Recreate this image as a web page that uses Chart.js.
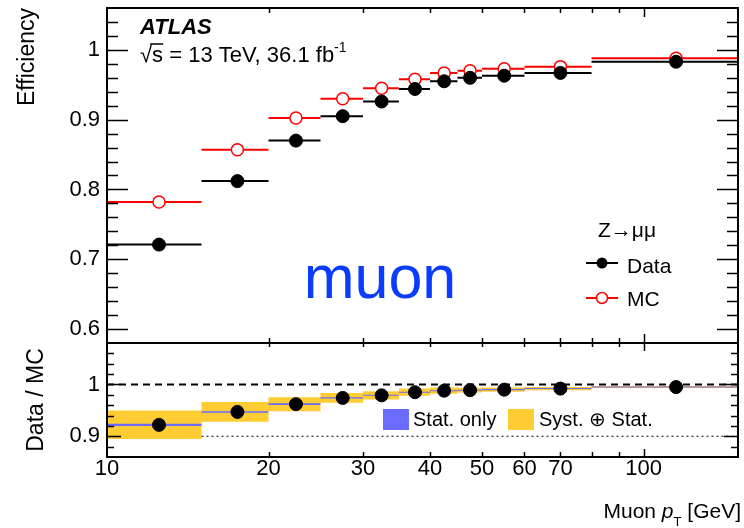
<!DOCTYPE html>
<html>
<head>
<meta charset="utf-8">
<script src="https://cdn.jsdelivr.net/npm/chart.js@4.4.1/dist/chart.umd.min.js"></script>
<style>
    html, body { margin: 0; padding: 0; background: #fff; }
    #wrap { position: relative; width: 744px; height: 528px; }
    #effCanvas { position: absolute; left: 0; top: 0; }
    #ratioCanvas { position: absolute; left: 0; top: 330px; }
</style>
</head>
<body>
<div id="wrap">
    <canvas id="effCanvas" width="744" height="345"></canvas>
    <canvas id="ratioCanvas" width="744" height="198"></canvas>
</div>
<script>
// pT bins [GeV]
const binLow = [10, 15, 20, 25, 30, 35, 40, 45, 50, 60, 80];
const binHigh = [15, 20, 25, 30, 35, 40, 45, 50, 60, 80, 150];
const binCenter = [12.5, 17.5, 22.5, 27.5, 32.5, 37.5, 42.5, 47.5, 55, 70, 115];

// efficiencies
const effData = [0.721, 0.812, 0.870, 0.905, 0.926, 0.944, 0.955, 0.960, 0.963, 0.967, 0.983];
const effMC = [0.782, 0.857, 0.9025, 0.930, 0.945, 0.958, 0.967, 0.970, 0.973, 0.976, 0.988];

// data / MC
const ratio = [0.922, 0.947, 0.962, 0.974, 0.979, 0.985, 0.988, 0.989, 0.990, 0.992, 0.995];
const statErr = [0.002, 0.0015, 0.0015, 0.0012, 0.001, 0.001, 0.001, 0.001, 0.001, 0.001, 0.001];
const systErr = [0.0275, 0.019, 0.0135, 0.0095, 0.008, 0.007, 0.006, 0.0045, 0.004, 0.003, 0.002];

// axes
const ptTicks = [10, 20, 30, 40, 50, 60, 70, 100];
const ptTickLabels = ['10', '20', '30', '40', '50', '60', '70', '100'];
const ptTickMarks = [20, 30, 40, 50, 60, 70, 80, 90, 100];
const effTicks = [0.6, 0.7, 0.8, 0.9, 1];
const effTickLabels = ['0.6', '0.7', '0.8', '0.9', '1'];
const ratioTicks = [0.9, 1];
const ratioTickLabels = ['0.9', '1'];

const FONT = '"Liberation Sans", Arial, Helvetica, sans-serif';
Chart.defaults.font.family = FONT;
Chart.defaults.color = '#000';

function binSegments(values) {
    const pts = [];
    values.forEach((v, i) => {
        pts.push({x: binLow[i], y: v}, {x: binHigh[i], y: v}, {x: binHigh[i], y: null});
    });
    return pts;
}

function stepEdge(values, errs, sign) {
    const pts = [];
    values.forEach((v, i) => {
        const y = v + sign * errs[i];
        pts.push({x: binLow[i], y: y}, {x: binHigh[i], y: y});
    });
    return pts;
}

function centers(values) {
    return values.map((v, i) => ({x: binCenter[i], y: v}));
}

// fixed axis box, no label overflow padding
function fixWidth(w) {
    return s => { s.width = w; s.paddingTop = 0; s.paddingBottom = 0; };
}

// inside tick marks + frame, ROOT style
const frameTicks = {
    id: 'frameTicks',
    afterDatasetsDraw(chart, args, o) {
        const {ctx, chartArea: a, scales} = chart;
        const xs = scales.x, ys = scales.y;
        ctx.save();
        ctx.strokeStyle = '#000';
        ctx.lineWidth = 1.5;
        ctx.beginPath();
        for (let v = o.yFrom; v <= o.yTo + 1e-9; v += 0.02) {
            const py = Math.round(ys.getPixelForValue(v)) + 0.5;
            const major = o.yMajor.some(m => Math.abs(m - v) < 1e-6);
            const len = major ? o.yMajorLen : o.yMinorLen;
            ctx.moveTo(a.left, py); ctx.lineTo(a.left + len, py);
            ctx.moveTo(a.right, py); ctx.lineTo(a.right - len, py);
        }
        ptTickMarks.forEach(v => {
            const px = Math.round(xs.getPixelForValue(v)) + 0.5;
            const lenTop = v === 100 ? o.xMajorLen : o.xMinorTop;
            const lenBot = v === 100 ? o.xMajorLen : o.xMinorBot;
            ctx.moveTo(px, a.top); ctx.lineTo(px, a.top + lenTop);
            ctx.moveTo(px, a.bottom); ctx.lineTo(px, a.bottom - lenBot);
        });
        ctx.stroke();
        ctx.lineWidth = 2;
        ctx.strokeRect(a.left, a.top, a.right - a.left, a.bottom - a.top);
        ctx.restore();
    }
};

const effLabels = {
    id: 'effLabels',
    afterDraw(chart) {
        const ctx = chart.ctx;
        ctx.save();
        ctx.fillStyle = '#000';
        ctx.strokeStyle = '#000';
        ctx.textBaseline = 'alphabetic';
        ctx.font = 'italic bold 22px ' + FONT;
        ctx.fillText('ATLAS', 140, 34);

        ctx.font = '22px ' + FONT;
        const s1 = '\u221As = 13 TeV, 36.1 fb';
        ctx.fillText(s1, 140, 62);
        const w1 = ctx.measureText(s1).width;
        const wr = ctx.measureText('\u221A').width;
        const ws = ctx.measureText('s').width;
        ctx.lineWidth = 1.5;
        ctx.beginPath();
        ctx.moveTo(140 + wr - 2, 44); ctx.lineTo(140 + wr + ws, 44);
        ctx.stroke();
        ctx.font = '14px ' + FONT;
        ctx.fillText('-1', 140 + w1, 52);

        ctx.fillStyle = '#0a3cff';
        ctx.font = '61px ' + FONT;
        ctx.textAlign = 'center';
        ctx.fillText('muon', 380, 298);

        ctx.textAlign = 'left';
        ctx.fillStyle = '#000';
        ctx.font = '21px ' + FONT;
        ctx.fillText('Z\u2192\u03BC\u03BC', 598, 237);
        ctx.fillText('Data', 627, 273);
        ctx.fillText('MC', 627, 306);

        ctx.lineWidth = 2;
        ctx.beginPath(); ctx.moveTo(586, 263); ctx.lineTo(618, 263); ctx.stroke();
        ctx.beginPath(); ctx.arc(602, 263, 5.5, 0, Math.PI * 2); ctx.fill();
        ctx.strokeStyle = '#ff0000';
        ctx.beginPath(); ctx.moveTo(586, 298); ctx.lineTo(618, 298); ctx.stroke();
        ctx.fillStyle = '#fff';
        ctx.lineWidth = 1.5;
        ctx.beginPath(); ctx.arc(602, 298, 5.5, 0, Math.PI * 2); ctx.fill(); ctx.stroke();
        ctx.restore();
    }
};

const ratioLabels = {
    id: 'ratioLabels',
    afterDraw(chart) {
        const ctx = chart.ctx;
        const oy = 330; // canvas offset in page
        ctx.save();
        ctx.fillStyle = '#6b6bff';
        ctx.fillRect(383, 409 - oy, 26, 21);
        ctx.fillStyle = '#ffcc33';
        ctx.fillRect(508, 409 - oy, 26, 21);
        ctx.fillStyle = '#000';
        ctx.font = '20px ' + FONT;
        ctx.textBaseline = 'alphabetic';
        ctx.fillText('Stat. only', 413, 426 - oy);
        ctx.fillText('Syst. \u2295 Stat.', 539, 426 - oy);

        // x title, right aligned
        const base = 518 - oy;
        const parts = [
            ['Muon ', '21px ' + FONT, 0],
            ['p', 'italic 21px ' + FONT, 0],
            ['T', '13px ' + FONT, 8],
            [' [GeV]', '21px ' + FONT, 0]
        ];
        let total = 0;
        parts.forEach(p => { ctx.font = p[1]; total += ctx.measureText(p[0]).width; });
        let x = 741 - total;
        parts.forEach(p => {
            ctx.font = p[1];
            ctx.fillText(p[0], x, base + p[2]);
            x += ctx.measureText(p[0]).width;
        });
        ctx.restore();
    }
};

const effChart = new Chart(document.getElementById('effCanvas'), {
    type: 'line',
    data: {
        datasets: [
            {label: 'MC bins', data: binSegments(effMC), borderColor: '#ff0000', borderWidth: 2,
             pointRadius: 0, spanGaps: false, order: 4},
            {label: 'Data bins', data: binSegments(effData), borderColor: '#000', borderWidth: 2,
             pointRadius: 0, spanGaps: false, order: 3},
            {label: 'MC', data: centers(effMC), showLine: false, pointRadius: 6,
             pointBackgroundColor: '#fff', pointBorderColor: '#ff0000', pointBorderWidth: 1.5, order: 2},
            {label: 'Data', data: centers(effData), showLine: false, pointRadius: 6.5,
             pointBackgroundColor: '#000', pointBorderColor: '#000', pointBorderWidth: 1, order: 1}
        ]
    },
    options: {
        responsive: false,
        animation: false,
        events: [],
        layout: {autoPadding: false, padding: {top: 8, bottom: 2, left: 0, right: 6}},
        plugins: {
            legend: {display: false},
            tooltip: {enabled: false},
            frameTicks: {yFrom: 0.6, yTo: 1.04, yMajor: effTicks, yMajorLen: 21, yMinorLen: 11,
                         xMajorLen: 9, xMinorTop: 5, xMinorBot: 5}
        },
        scales: {
            x: {type: 'logarithmic', min: 10, max: 150, display: false},
            y: {
                min: 0.58, max: 1.06,
                afterBuildTicks: s => { s.ticks = effTicks.map(v => ({value: v})); },
                afterFit: fixWidth(107),
                ticks: {font: {size: 22}, color: '#000', padding: 7,
                        callback: (v, i) => effTickLabels[i]},
                grid: {display: false, drawTicks: false},
                border: {display: false},
                title: {display: true, text: 'Efficiency', align: 'end', color: '#000',
                        font: {size: 23}, padding: {top: 14, bottom: 0}}
            }
        }
    },
    plugins: [frameTicks, effLabels]
});

const ratioChart = new Chart(document.getElementById('ratioCanvas'), {
    type: 'line',
    data: {
        datasets: [
            {label: 'syst lo', data: stepEdge(ratio, systErr, -1), borderColor: 'rgba(0,0,0,0)',
             borderWidth: 0, pointRadius: 0, fill: false, order: 10},
            {label: 'syst hi', data: stepEdge(ratio, systErr, 1), borderColor: 'rgba(0,0,0,0)',
             borderWidth: 0, pointRadius: 0, fill: '-1', backgroundColor: '#ffcc33', order: 9},
            {label: 'stat lo', data: stepEdge(ratio, statErr, -1), borderColor: 'rgba(0,0,0,0)',
             borderWidth: 0, pointRadius: 0, fill: false, order: 8},
            {label: 'stat hi', data: stepEdge(ratio, statErr, 1), borderColor: 'rgba(0,0,0,0)',
             borderWidth: 0, pointRadius: 0, fill: '-1', backgroundColor: '#6b6bff', order: 7},
            {label: 'unity', data: [{x: 10, y: 1}, {x: 150, y: 1}], borderColor: '#000',
             borderWidth: 2, borderDash: [7, 5], pointRadius: 0, order: 6},
            {label: 'ninety', data: [{x: 15, y: 0.9}, {x: 150, y: 0.9}], borderColor: '#000',
             borderWidth: 1.2, borderDash: [2, 3], pointRadius: 0, order: 5},
            {label: 'ratio', data: centers(ratio), showLine: false, pointRadius: 6.5,
             pointBackgroundColor: '#000', pointBorderColor: '#000', order: 1}
        ]
    },
    options: {
        responsive: false,
        animation: false,
        events: [],
        layout: {autoPadding: false, padding: {top: 13, bottom: 0, left: 0, right: 6}},
        plugins: {
            legend: {display: false},
            tooltip: {enabled: false},
            frameTicks: {yFrom: 0.88, yTo: 1.06, yMajor: ratioTicks, yMajorLen: 14, yMinorLen: 7,
                         xMajorLen: 8, xMinorTop: 4, xMinorBot: 5}
        },
        scales: {
            x: {
                type: 'logarithmic', min: 10, max: 150,
                afterBuildTicks: s => { s.ticks = ptTicks.map(v => ({value: v})); },
                afterFit: s => { s.height = 71; s.paddingLeft = 0; s.paddingRight = 0; },
                ticks: {font: {size: 22}, color: '#000', padding: -1, autoSkip: false,
                        maxRotation: 0, callback: (v, i) => ptTickLabels[i]},
                grid: {display: false, drawTicks: false},
                border: {display: false}
            },
            y: {
                min: 0.86, max: 1.08,
                afterBuildTicks: s => { s.ticks = ratioTicks.map(v => ({value: v})); },
                afterFit: fixWidth(107),
                ticks: {font: {size: 22}, color: '#000', padding: 7,
                        callback: (v, i) => ratioTickLabels[i]},
                grid: {display: false, drawTicks: false},
                border: {display: false},
                title: {display: true, text: 'Data / MC', align: 'center', color: '#000',
                        font: {size: 23}, padding: {top: 23, bottom: 0}}
            }
        }
    },
    plugins: [frameTicks, ratioLabels]
});
</script>
</body>
</html>
